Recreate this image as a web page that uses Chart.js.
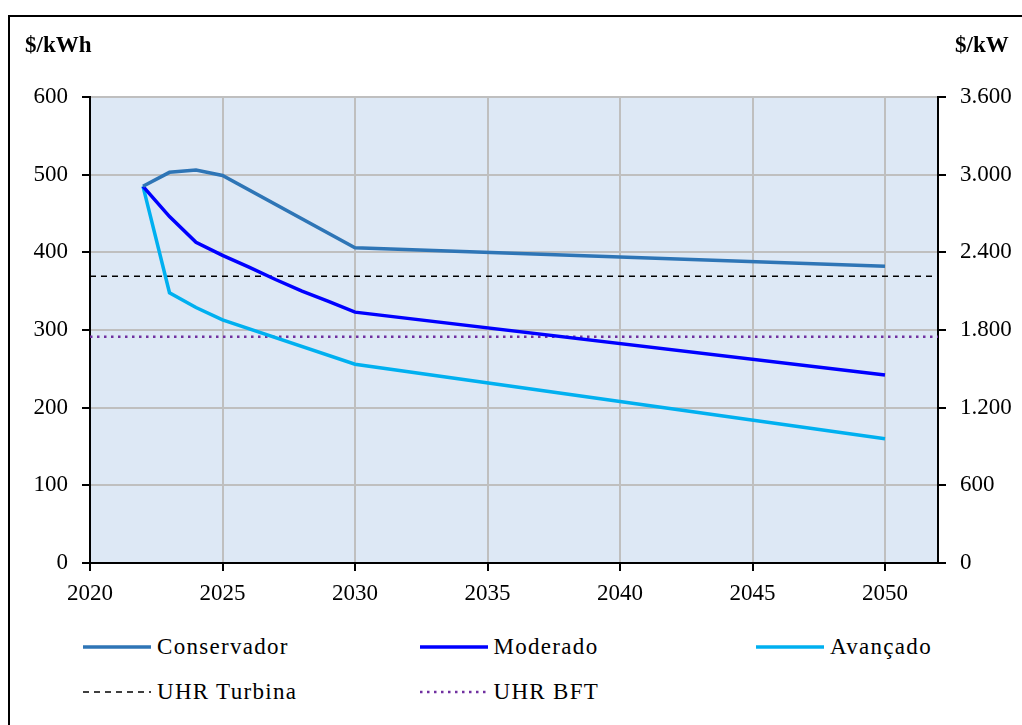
<!DOCTYPE html>
<html>
<head>
<meta charset="utf-8">
<script src="https://cdn.jsdelivr.net/npm/chart.js@4"></script>
<style>
body{margin:0;background:#fff;width:1022px;height:725px;overflow:hidden;position:relative;font-family:"Liberation Serif",serif;}
#moldura{position:absolute;left:8px;top:15px;width:2000px;height:2000px;border-top:2px solid #000;border-left:2px solid #000;}
#grafico{position:absolute;left:0;top:0;}
.unidade{position:absolute;top:32px;font-weight:bold;font-size:23px;color:#000;}
.leg{position:absolute;height:30px;display:flex;align-items:center;font-size:23px;color:#000;white-space:nowrap;}
.leg span{letter-spacing:1.3px;}
.leg svg{margin-right:6px;}
</style>
</head>
<body>
<div id="moldura"></div>
<canvas id="grafico" width="1022" height="620"></canvas>
<div class="unidade" style="left:25px">$/kWh</div>
<div class="unidade" style="left:955px">$/kW</div>
<div id="legenda"></div>
<script>
// dados
const anosConservador = [2022, 2023, 2024, 2025, 2030, 2050]
const conservador = [485, 503, 506, 499, 406, 382]
const anosModerado = [2022, 2023, 2024, 2025, 2026, 2027, 2028, 2029, 2030, 2050]
const moderado = [485, 446, 413, 396, 381, 365, 350, 337, 323, 242]
const anosAvancado = [2022, 2023, 2024, 2025, 2030, 2050]
const avancado = [485, 348, 329, 313, 256, 160]
const anosRef = [2020, 2052]
const uhrTurbina = [2215, 2215]   // $/kW (eixo da direita)
const uhrBft = [1748, 1748]
const ticksX = [2020, 2025, 2030, 2035, 2040, 2045, 2050]
const ticksEsq = [0, 100, 200, 300, 400, 500, 600]
const ticksDir = [0, 600, 1200, 1800, 2400, 3000, 3600]

const pontos = (xs, ys) => xs.map((x, i) => ({ x: x, y: ys[i] }))
const milhar = v => String(v).replace(/\B(?=(\d{3})+(?!\d))/g, '.')

Chart.defaults.font.family = '"Liberation Serif", serif'
Chart.defaults.font.size = 23
Chart.defaults.color = '#000'

const fundo = { // fundo azul da area do grafico
  id: 'fundo',
  beforeDraw(chart) {
    const { ctx, chartArea: a } = chart
    ctx.save()
    ctx.fillStyle = '#dde8f5'
    ctx.fillRect(a.left, a.top, a.right - a.left, a.bottom - a.top)
    ctx.restore()
  }
}

const linha = (label, data, cor, largura, eixo, traco) => ({
  label, data, borderColor: cor, backgroundColor: cor, borderWidth: largura,
  borderDash: traco || [], pointRadius: 0, tension: 0, yAxisID: eixo, fill: false
})

const datasets = [
  linha('Conservador', pontos(anosConservador, conservador), '#2e75b6', 3.5, 'y'),
  linha('Moderado', pontos(anosModerado, moderado), '#0000ff', 3.5, 'y'),
  linha('Avançado', pontos(anosAvancado, avancado), '#00b0f0', 3.5, 'y'),
  linha('UHR Turbina', pontos(anosRef, uhrTurbina), '#000000', 1.5, 'y2', [6, 5]),
  linha('UHR BFT', pontos(anosRef, uhrBft), '#7030a0', 2.5, 'y2', [2.5, 4.5])
]

const grade = { color: '#bfbfbf', lineWidth: 2, tickColor: '#000', tickLength: 8, tickWidth: 2 }

const chart = new Chart(document.getElementById('grafico'), {
  type: 'line',
  data: { datasets },
  plugins: [fundo],
  options: {
    responsive: false,
    animation: false,
    layout: { padding: { top: 97, left: 0, right: 0, bottom: 0 } },
    plugins: { legend: { display: false }, tooltip: { enabled: false } },
    scales: {
      x: {
        type: 'linear', min: 2020, max: 2052,
        afterBuildTicks: s => { s.ticks = ticksX.map(v => ({ value: v })) },
        afterFit: s => { s.height = 57 },
        grid: grade,
        border: { color: '#000', width: 2 },
        ticks: { padding: 9, maxRotation: 0, callback: v => String(v) }
      },
      y: {
        position: 'left', min: 0, max: 600,
        afterBuildTicks: s => { s.ticks = ticksEsq.map(v => ({ value: v })) },
        afterFit: s => { s.width = 90 },
        grid: grade,
        border: { color: '#000', width: 2 },
        ticks: { padding: 14, callback: v => String(v) }
      },
      y2: {
        position: 'right', min: 0, max: 3600,
        afterBuildTicks: s => { s.ticks = ticksDir.map(v => ({ value: v })) },
        afterFit: s => { s.width = 84 },
        grid: Object.assign({}, grade, { drawOnChartArea: false }),
        border: { color: '#000', width: 2 },
        ticks: { padding: 14, callback: v => milhar(v) }
      }
    }
  }
})

// legenda em tres colunas
const legenda = document.getElementById('legenda')
chart.data.datasets.forEach((d, i) => {
  const col = i % 3, lin = Math.floor(i / 3)
  const item = document.createElement('div')
  item.className = 'leg'
  item.style.left = (83 + col * 336.5) + 'px'
  item.style.top = (632 + lin * 45) + 'px'
  const traco = d.borderDash.length ? `stroke-dasharray="${d.borderDash.join(' ')}"` : ''
  item.innerHTML = `<svg width="68" height="8"><line x1="0" y1="4" x2="68" y2="4" stroke="${d.borderColor}" stroke-width="${d.borderWidth}" ${traco}/></svg><span>${d.label}</span>`
  legenda.appendChild(item)
})
</script>
</body>
</html>
